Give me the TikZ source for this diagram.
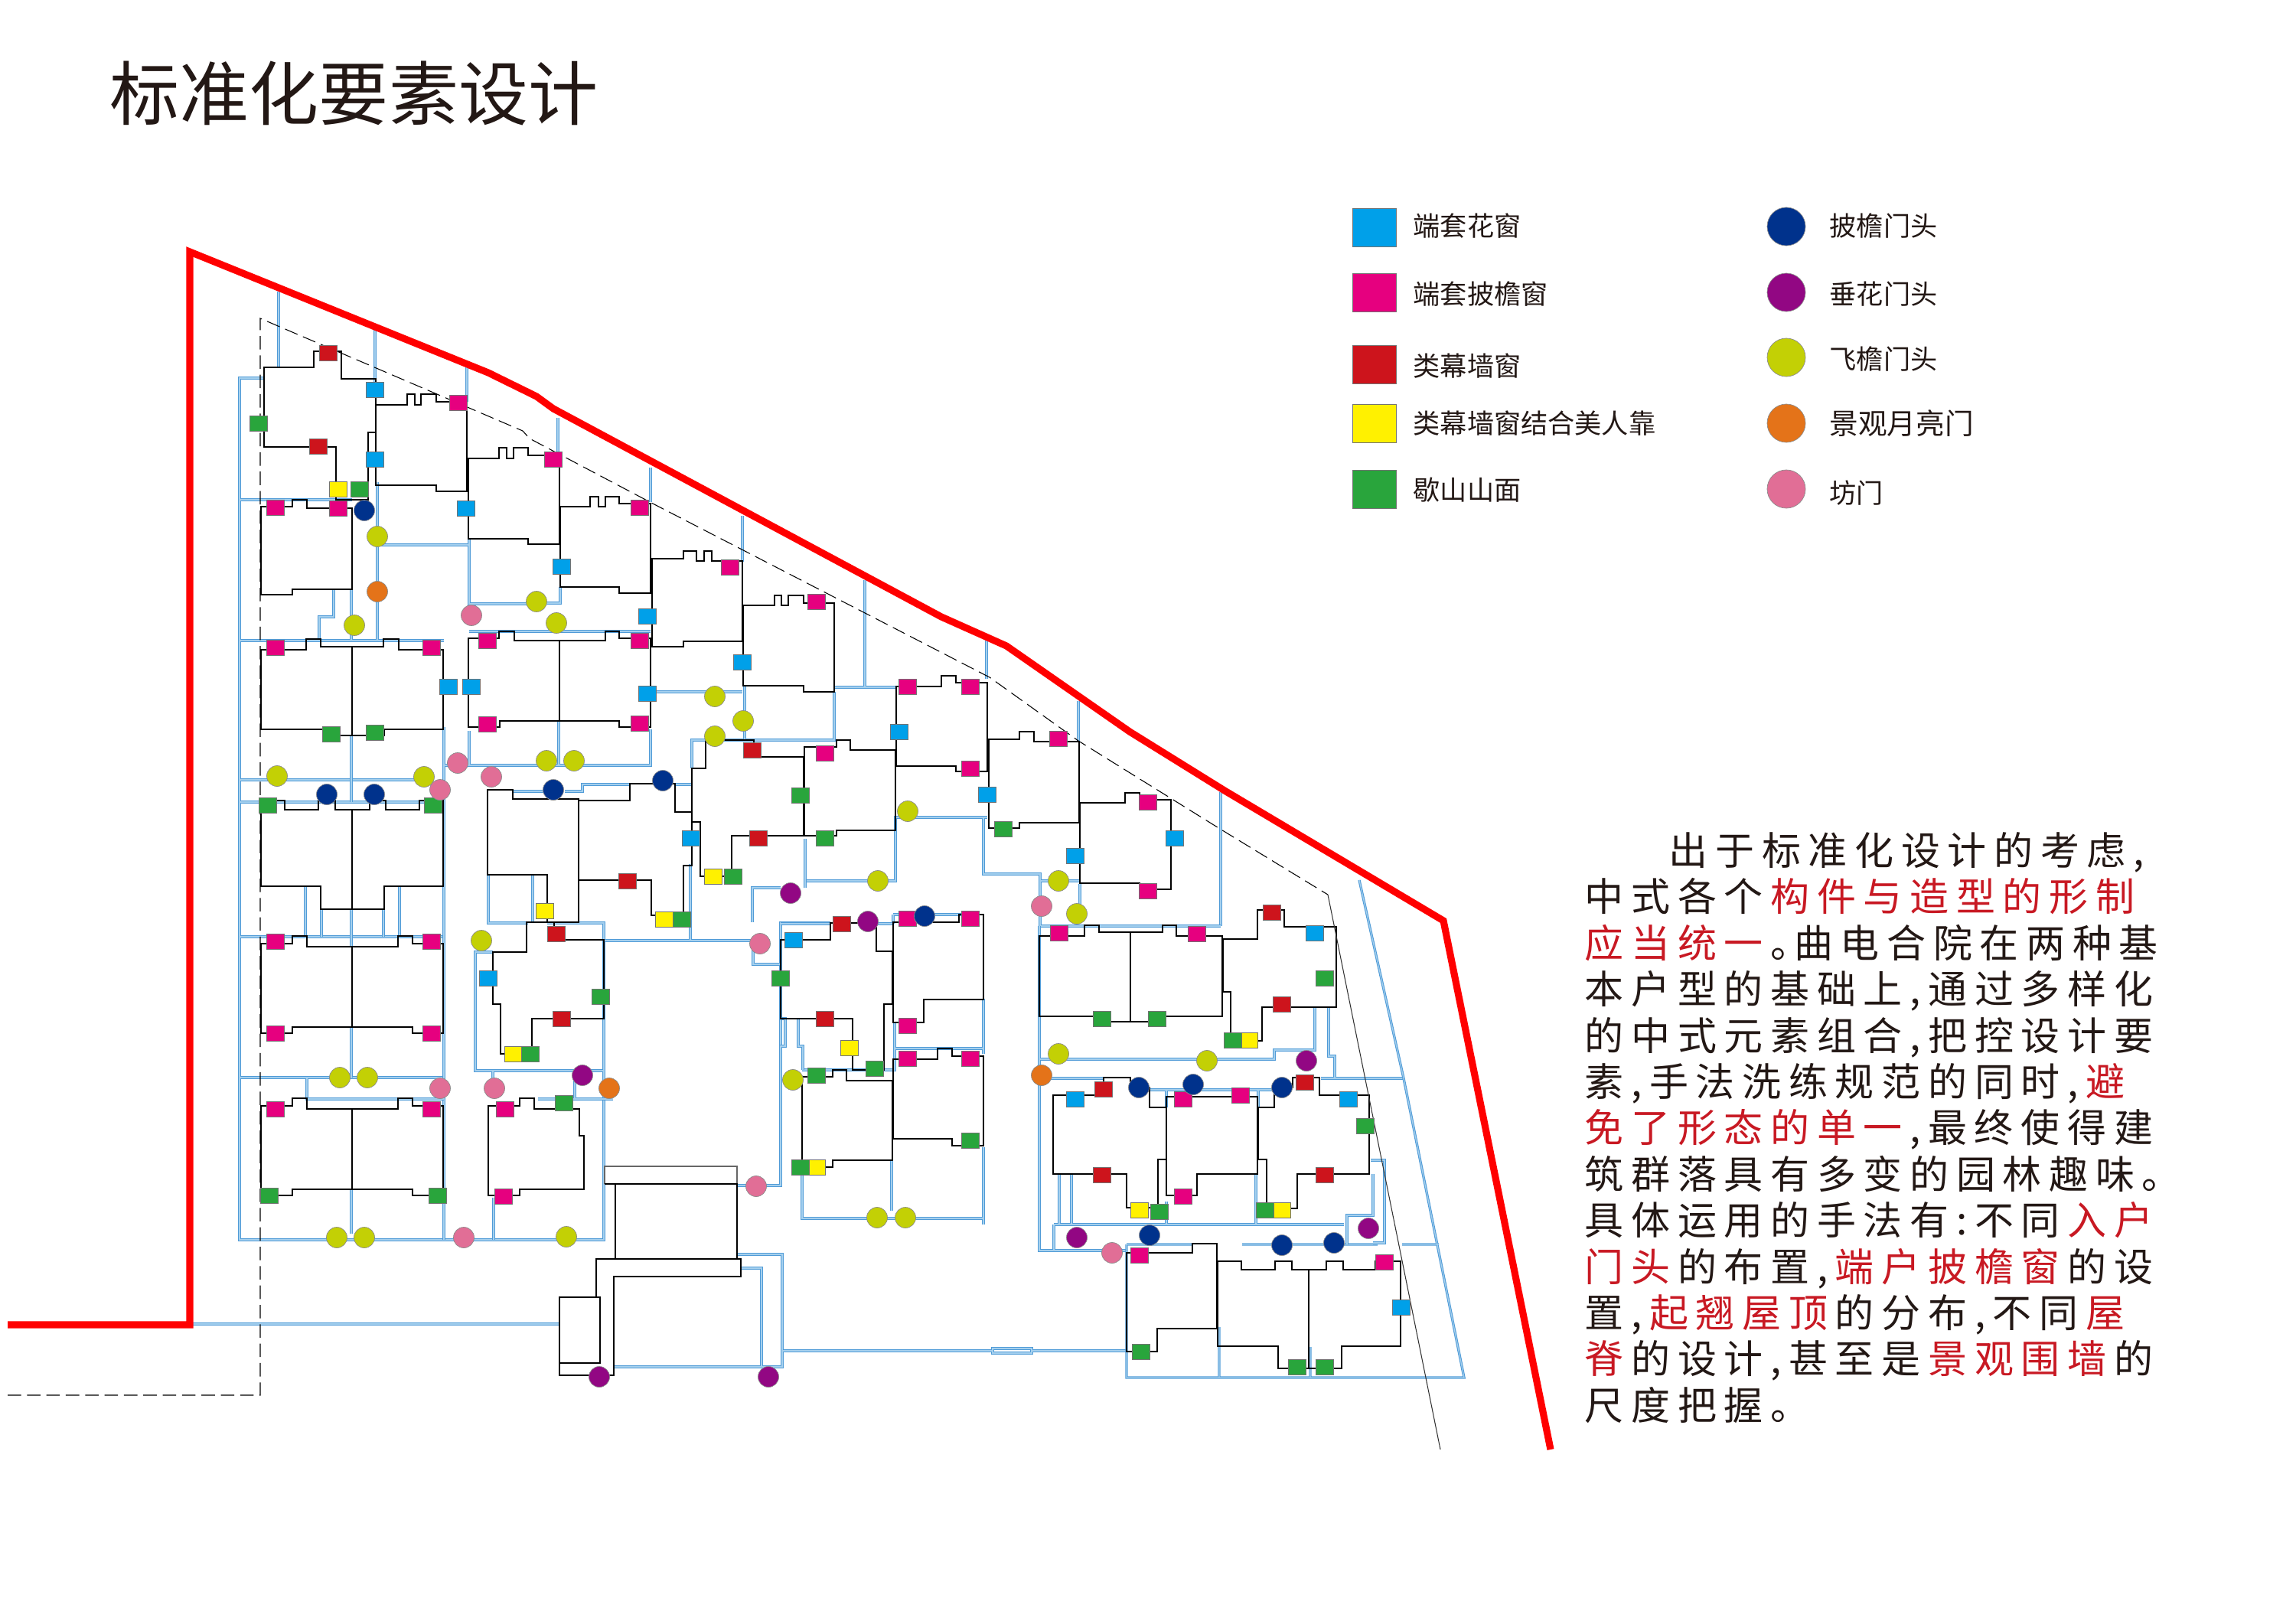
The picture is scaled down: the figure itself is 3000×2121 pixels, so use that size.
\documentclass[tikz,border=0pt]{standalone}
\usepackage{fontspec}
\setmainfont{Noto Sans CJK SC}
\newfontfamily\parafont[LetterSpace=19]{Noto Sans CJK SC}
\usepackage{tikz}
\usetikzlibrary{positioning}
\definecolor{skywin}{RGB}{0,160,233}
\definecolor{magwin}{RGB}{230,0,127}
\definecolor{redwin}{RGB}{205,20,28}
\definecolor{yelwin}{RGB}{255,241,0}
\definecolor{grnwin}{RGB}{41,165,60}
\definecolor{navydoor}{RGB}{0,50,140}
\definecolor{purpdoor}{RGB}{146,7,131}
\definecolor{olivedoor}{RGB}{195,208,5}
\definecolor{orgdoor}{RGB}{228,115,25}
\definecolor{pinkdoor}{RGB}{225,110,150}
\definecolor{roadblue}{RGB}{80,155,215}
\definecolor{roadfill}{RGB}{165,208,238}
\definecolor{parared}{RGB}{200,25,35}
\definecolor{inkblack}{RGB}{35,24,21}
\tikzstyle{winnode} = [draw=black!55, line width=.2pt, rectangle, minimum width=.235cm, minimum height=.2cm, inner sep=0pt]
\tikzstyle{doornode} = [draw=black!45, line width=.2pt, circle, minimum size=.27cm, inner sep=0pt]
\tikzstyle{keywin} = [draw=black!55, line width=.2pt, rectangle, minimum width=.57cm, minimum height=.5cm, inner sep=0pt]
\tikzstyle{keydoor} = [draw=black!45, line width=.2pt, circle, minimum size=.5cm, inner sep=0pt]
\tikzstyle{keytext} = [anchor=west, inner sep=0pt, font=\fontsize{10}{12}\selectfont, text=inkblack]
\tikzstyle{paraline} = [anchor=base west, inner sep=0pt, font=\parafont\fontsize{14.5}{17}\selectfont, text=inkblack]
\tikzstyle{housewall} = [draw=black, line width=.62pt]
\tikzstyle{roadline} = [draw=roadblue, line width=.3pt, double=roadfill, double distance=.35pt]
\newcommand{\hl}[1]{\kern.19em\textcolor{parared}{#1}\kern.19em}
\newcommand{\hlfirst}[1]{\textcolor{parared}{#1}\kern.19em}
\newcommand{\juhao}{。\kern-.4em}
\begin{document}
\begin{tikzpicture}[x=0.01cm, y=-0.01cm]
    \useasboundingbox (0,0) rectangle (3000,2121);

    \node[anchor=west, inner sep=0pt, font=\fontsize{25.9}{30}\selectfont, text=inkblack] (title) at (143,122) {标准化要素设计};

    \draw[roadline] (364,381) -- (364,480) (490,430) -- (490,501) (610,479) -- (610,525) (729,546) -- (729,592) (850,611) -- (850,656) (970,674) -- (970,734);
    \draw[roadline] (1130,758) -- (1130,898) (1090,898) -- (1171,898) (1289,837) -- (1289,887) (1409,916) -- (1409,969) (1595,1035) -- (1595,1210);
    \draw[roadline] (344,494) -- (313,494) -- (313,1620) -- (789,1620) -- (789,1228) (313,653) -- (460,653) (313,837) -- (580,837) (313,1019) -- (554,1019) (313,1048) -- (578,1048) (313,1224) -- (580,1224) (313,1408) -- (578,1408);
    \draw[roadline] (580,950) -- (580,1620) (459,961) -- (459,1048) (459,1188) -- (459,1237) (459,1342) -- (459,1408) (459,1554) -- (459,1612);
    \draw[roadline] (493,630) -- (493,836) (493,712) -- (612,712) (613,704) -- (613,789) -- (701,789) (732,767) -- (732,788) -- (714,788);
    \draw[roadline] (613,825) -- (850,825) (613,955) -- (613,1000) -- (850,1000) -- (850,953) (730,942) -- (730,1000) (581,1000) -- (613,1000);
    \draw[roadline] (436,770) -- (436,806) -- (417,806) -- (417,836) (459,771) -- (459,836) (857,904) -- (922,904) (922,967) -- (904,967) -- (904,1003);
    \draw[roadline] (670,1034) -- (710,1034) (738,1034) -- (761,1034) -- (761,1025) -- (824,1025) (882,1025) -- (904,1025);
    \draw[roadline] (638,1143) -- (638,1206) -- (690,1206) (696,1143) -- (696,1206) (715,1206) -- (789,1206) -- (789,1227) (789,1229) -- (982,1229) (902,1129) -- (902,1229);
    \draw[roadline] (644,1244) -- (621,1244) -- (621,1399) -- (788,1399) (703,1436) -- (801,1436) (401,1409) -- (401,1436) -- (580,1436) (644,1399) -- (644,1435) (645,1565) -- (645,1620) (751,1404) -- (751,1436);
    \draw[roadline] (399,1158) -- (399,1224) (522,1158) -- (522,1224) (420,1188) -- (420,1224) (501,1188) -- (501,1224) (249,1730) -- (731,1730);
    \draw[roadline] (984,1233) -- (984,1260) -- (1020,1260) (1085,1206) -- (1020,1206) -- (1020,1549) -- (963,1549);
    \draw[roadline] (1048,1525) -- (1048,1592) -- (1285,1592) (1165,1516) -- (1165,1582) (1285,1499) -- (1285,1600) (1285,1305) -- (1285,1377) (1169,1370) -- (1285,1370) (1169,1335) -- (1169,1398) -- (1048,1398);
    \draw[roadline] (1020,1331) -- (1026,1331) -- (1026,1367) -- (1020,1367) -- (1020,1407) (1043,1331) -- (1043,1367) -- (1049,1367) -- (1049,1398);
    \draw[roadline] (983,1205) -- (983,1160) -- (1020,1160) (1052,1096) -- (1052,1160) (1054,1151) -- (1170,1151) -- (1170,1068) -- (1290,1068) (1285,1069) -- (1285,1142) -- (1359,1142) -- (1359,1210) (1359,1151) -- (1411,1151) (1411,1155) -- (1411,1193) (1359,1210) -- (1595,1210);
    \draw[roadline] (1090,904) -- (1090,967) -- (904,967) -- (904,1004) (973,897) -- (973,967) (850,904) -- (970,904) (1020,1207) -- (1085,1207) (1146,1207) -- (1168,1207) (1167,1195) -- (1257,1195) (1167,1195) -- (1167,1207);
    \draw[roadline] (963,1639) -- (1022,1639) -- (1022,1786) -- (803,1786) (968,1657) -- (995,1657) -- (995,1786) (1023,1765) -- (1297,1765) (1348,1765) -- (1472,1765) (1297,1762) rectangle (1348,1768);
    \draw[roadline] (1358,1210) -- (1358,1634) -- (1471,1634) (1377,1600) -- (1377,1633) (1377,1600) -- (1756,1600) (1384,1535) -- (1384,1600) (1400,1535) -- (1400,1600) (1524,1570) -- (1524,1600) (1641,1535) -- (1641,1600);
    \draw[roadline] (1359,1384) -- (1665,1384) -- (1665,1372) -- (1718,1372) -- (1718,1316) (1736,1316) -- (1736,1380) -- (1744,1380) -- (1744,1408) (1361,1409) -- (1442,1409) (1501,1424) -- (1665,1424) (1524,1424) -- (1524,1447) (1644,1424) -- (1644,1447) (1726,1409) -- (1834,1409);
    \draw[roadline] (1776,1150) -- (1834,1409) -- (1913,1800) -- (1472,1800) -- (1472,1626) (1593,1734) -- (1593,1800) (1712,1760) -- (1712,1800) (1832,1626) -- (1880,1626) (1472,1626) -- (1558,1626) (1623,1626) -- (1800,1626);
    \draw[roadline] (1760,1626) -- (1760,1588) -- (1794,1588) -- (1794,1534) (1791,1516) -- (1809,1516) -- (1809,1624) -- (1794,1624);

    \draw[housewall] (345,584) -- (345,480) -- (410,480) -- (410,459) -- (446,459) -- (446,495) -- (491,495) -- (491,565) -- (481,565) -- (481,653) -- (439,653) -- (439,584) -- cycle;
    \draw[housewall] (491,529) -- (532,529) -- (532,515) -- (542,515) -- (542,529) -- (550,529) -- (550,515) -- (570,515) -- (570,525) -- (610,525) -- (610,642) -- (570,642) -- (570,634) -- (491,634) -- cycle;
    \draw[housewall] (612,599) -- (652,599) -- (652,585) -- (662,585) -- (662,599) -- (671,599) -- (671,585) -- (690,585) -- (690,595) -- (731,595) -- (731,711) -- (690,711) -- (690,704) -- (612,704) -- cycle;
    \draw[housewall] (732,662) -- (771,662) -- (771,649) -- (782,649) -- (782,662) -- (791,662) -- (791,649) -- (809,649) -- (809,658) -- (850,658) -- (850,775) -- (809,775) -- (809,767) -- (732,767) -- cycle;
    \draw[housewall] (852,730) -- (893,730) -- (893,720) -- (910,720) -- (910,733) -- (920,733) -- (920,720) -- (930,720) -- (930,733) -- (970,733) -- (970,838) -- (893,838) -- (893,845) -- (852,845) -- cycle;
    \draw[housewall] (971,791) -- (1012,791) -- (1012,778) -- (1021,778) -- (1021,791) -- (1030,791) -- (1030,778) -- (1050,778) -- (1050,788) -- (1090,788) -- (1090,904) -- (1050,904) -- (1050,896) -- (971,896) -- cycle;
    \draw[housewall] (341,662) -- (382,662) -- (382,653) -- (401,653) -- (401,664) -- (460,664) -- (460,770) -- (382,770) -- (382,777) -- (341,777) -- cycle;
    \draw[housewall] (341,849) -- (400,849) -- (400,835) -- (419,835) -- (419,845) -- (501,845) -- (501,835) -- (521,835) -- (521,849) -- (579,849) -- (579,953) -- (502,953) -- (502,961) -- (422,961) -- (422,953) -- (341,953) -- cycle (460,845) -- (460,961);
    \draw[housewall] (612,834) -- (652,834) -- (652,825) -- (672,825) -- (672,837) -- (791,837) -- (791,825) -- (809,825) -- (809,834) -- (850,834) -- (850,950) -- (809,950) -- (809,942) -- (653,942) -- (653,950) -- (612,950) -- cycle (731,837) -- (731,942);
    \draw[housewall] (341,1046) -- (372,1046) -- (372,1058) -- (416,1058) -- (416,1046) -- (438,1046) -- (438,1058) -- (483,1058) -- (483,1046) -- (504,1046) -- (504,1058) -- (548,1058) -- (548,1046) -- (579,1046) -- (579,1158) -- (502,1158) -- (502,1188) -- (419,1188) -- (419,1158) -- (341,1158) -- cycle (460,1058) -- (460,1188);
    \draw[housewall] (341,1233) -- (382,1233) -- (382,1223) -- (401,1223) -- (401,1237) -- (520,1237) -- (520,1223) -- (539,1223) -- (539,1233) -- (579,1233) -- (579,1350) -- (539,1350) -- (539,1342) -- (382,1342) -- (382,1350) -- (341,1350) -- cycle (460,1237) -- (460,1342);
    \draw[housewall] (341,1445) -- (382,1445) -- (382,1435) -- (401,1435) -- (401,1449) -- (520,1449) -- (520,1435) -- (539,1435) -- (539,1445) -- (579,1445) -- (579,1562) -- (539,1562) -- (539,1554) -- (382,1554) -- (382,1562) -- (341,1562) -- cycle (460,1449) -- (460,1554);
    \draw[housewall] (637,1032) -- (670,1032) -- (670,1044) -- (756,1044) -- (756,1205) -- (715,1205) -- (715,1143) -- (637,1143) -- cycle;
    \draw[housewall] (756,1046) -- (823,1046) -- (823,1024) -- (882,1024) -- (882,1061) -- (904,1061) -- (904,1131) -- (893,1131) -- (893,1196) -- (851,1196) -- (851,1150) -- (756,1150);
    \draw[housewall] (904,1004) -- (922,1004) -- (922,967) -- (985,967) -- (985,989) -- (1050,989) -- (1050,1092) -- (956,1092) -- (956,1145) -- (915,1145) -- (915,1074) -- (904,1074) -- cycle;
    \draw[housewall] (1051,976) -- (1093,976) -- (1093,967) -- (1111,967) -- (1111,980) -- (1170,980) -- (1170,1085) -- (1093,1085) -- (1093,1092) -- (1051,1092) -- cycle;
    \draw[housewall] (1171,897) -- (1230,897) -- (1230,883) -- (1249,883) -- (1249,892) -- (1290,892) -- (1290,1008) -- (1249,1008) -- (1249,1001) -- (1171,1001) -- cycle;
    \draw[housewall] (1292,966) -- (1332,966) -- (1332,956) -- (1351,956) -- (1351,969) -- (1410,969) -- (1410,1075) -- (1332,1075) -- (1332,1082) -- (1292,1082) -- cycle;
    \draw[housewall] (1411,1049) -- (1470,1049) -- (1470,1036) -- (1489,1036) -- (1489,1045) -- (1530,1045) -- (1530,1162) -- (1489,1162) -- (1489,1154) -- (1411,1154) -- cycle;
    \draw[housewall] (1020,1331) -- (1020,1228) -- (1085,1228) -- (1085,1206) -- (1145,1206) -- (1145,1243) -- (1166,1243) -- (1166,1312) -- (1155,1312) -- (1155,1398) -- (1114,1398) -- (1114,1331) -- cycle;
    \draw[housewall] (1167,1205) -- (1253,1205) -- (1253,1195) -- (1285,1195) -- (1285,1306) -- (1207,1306) -- (1207,1336) -- (1167,1336) -- cycle;
    \draw[housewall] (1167,1384) -- (1225,1384) -- (1225,1370) -- (1244,1370) -- (1244,1380) -- (1285,1380) -- (1285,1497) -- (1244,1497) -- (1244,1488) -- (1167,1488) -- cycle;
    \draw[housewall] (1048,1525) -- (1048,1407) -- (1088,1407) -- (1088,1398) -- (1106,1398) -- (1106,1412) -- (1166,1412) -- (1166,1516) -- (1088,1516) -- (1088,1525) -- cycle;
    \draw[housewall] (644,1244) -- (688,1244) -- (688,1205) -- (724,1205) -- (724,1228) -- (789,1228) -- (789,1331) -- (695,1331) -- (695,1377) -- (654,1377) -- (654,1312) -- (644,1312) -- cycle;
    \draw[housewall] (638,1445) -- (679,1445) -- (679,1435) -- (698,1435) -- (698,1449) -- (757,1449) -- (757,1484) -- (763,1484) -- (763,1554) -- (679,1554) -- (679,1562) -- (638,1562) -- cycle;
    \draw[housewall, draw=black!60] (790,1547) -- (790,1524) -- (963,1524) -- (963,1547);
    \draw[housewall] (790,1547) -- (963,1547) -- (963,1645) (804,1547) -- (804,1645);
    \draw[housewall] (779,1645) -- (968,1645) -- (968,1668) -- (802,1668) -- (802,1797) -- (731,1797) -- (731,1695) -- (779,1695) -- cycle (731,1695) rectangle (784,1781);
    \draw[housewall] (1358,1223) -- (1417,1223) -- (1417,1209) -- (1436,1209) -- (1436,1218) -- (1519,1218) -- (1519,1209) -- (1537,1209) -- (1537,1223) -- (1597,1223) -- (1597,1328) -- (1523,1328) -- (1523,1335) -- (1451,1335) -- (1451,1328) -- (1358,1328) -- cycle (1477,1218) -- (1477,1335);
    \draw[housewall] (1598,1227) -- (1643,1227) -- (1643,1189) -- (1678,1189) -- (1678,1211) -- (1746,1211) -- (1746,1316) -- (1649,1316) -- (1649,1360) -- (1608,1360) -- (1608,1296) -- (1598,1296) -- cycle;
    \draw[housewall] (1376,1431) -- (1442,1431) -- (1442,1408) -- (1477,1408) -- (1477,1421) -- (1502,1421) -- (1502,1447) -- (1524,1447) -- (1524,1515) -- (1513,1515) -- (1513,1578) -- (1472,1578) -- (1472,1534) -- (1376,1534) -- cycle;
    \draw[housewall] (1524,1433) -- (1643,1433) -- (1643,1534) -- (1564,1534) -- (1564,1562) -- (1524,1562) -- cycle;
    \draw[housewall] (1644,1447) -- (1665,1447) -- (1665,1421) -- (1689,1421) -- (1689,1408) -- (1724,1408) -- (1724,1431) -- (1789,1431) -- (1789,1534) -- (1695,1534) -- (1695,1579) -- (1655,1579) -- (1655,1515) -- (1644,1515) -- cycle;
    \draw[housewall] (1472,1637) -- (1558,1637) -- (1558,1625) -- (1590,1625) -- (1590,1736) -- (1512,1736) -- (1512,1766) -- (1472,1766) -- cycle;
    \draw[housewall] (1591,1648) -- (1622,1648) -- (1622,1659) -- (1666,1659) -- (1666,1648) -- (1688,1648) -- (1688,1659) -- (1733,1659) -- (1733,1648) -- (1755,1648) -- (1755,1659) -- (1797,1659) -- (1797,1648) -- (1830,1648) -- (1830,1759) -- (1753,1759) -- (1753,1788) -- (1670,1788) -- (1670,1759) -- (1591,1759) -- cycle (1710,1659) -- (1710,1788);

    \draw[black, line width=.3pt, dash pattern=on 5pt off 2.2pt] (10,1823) -- (340,1823) -- (340,416) -- (683,563) -- (692,573) -- (853,658) -- (1293,885) -- (1409,968) -- (1594,1083) -- (1735,1169);
    \draw[black!80, line width=.3pt] (1735,1169) -- (1882,1894);
    \draw[red, line width=2.6pt, line join=miter] (10,1731) -- (248,1731) -- (248,329) -- (638,487) -- (701,518) -- (723,534) -- (1230,806) -- (1315,844) -- (1476,956) -- (1600,1033) -- (1886,1203) -- (2026,1894);

    \foreach \x/\y [count=\i] in {490/509,490/600,609/664,734/740,846/805,586/897,616/897,846/906,970/865,1175/956,1290/1038,1405/1118,1535/1095,1037/1228,903/1095,638/1278,1405/1436,1718/1219,1762/1436,1831/1708}
        \node[winnode, fill=skywin] (sky\i) at (\x,\y) {};
    \foreach \x/\y [count=\i] in {599/526,723/600,836/663,360/663,442/664,360/846,564/846,637/837,836/837,637/946,836/945,954/741,1067/786,1186/897,1268/897,1268/1004,1383/965,1500/1048,1500/1164,1078/984,1186/1200,1268/1200,1186/1340,1186/1383,1268/1383,1384/1219,1564/1220,360/1230,564/1230,360/1350,564/1350,360/1449,564/1449,660/1449,658/1563,1546/1436,1621/1431,1546/1563,1489/1640,1809/1649}
        \node[winnode, fill=magwin] (mag\i) at (\x,\y) {};
    \foreach \x/\y [count=\i] in {429/461,416/583,983/980,991/1095,1100/1207,1078/1331,727/1220,820/1151,734/1331,1662/1192,1675/1312,1705/1414,1442/1423,1440/1535,1731/1535}
        \node[winnode, fill=redwin] (redw\i) at (\x,\y) {};
    \foreach \x/\y [count=\i] in {442/639,712/1190,868/1201,932/1145,671/1377,1110/1369,1067/1525,1632/1359,1489/1581,1675/1581}
        \node[winnode, fill=yelwin] (yel\i) at (\x,\y) {};
    \foreach \x/\y [count=\i] in {338/553,470/639,433/959,490/957,350/1052,566/1052,891/1201,785/1302,693/1377,737/1441,352/1562,572/1562,1046/1039,1078/1095,958/1145,1311/1083,1020/1278,1440/1331,1512/1331,1143/1396,1067/1405,1268/1490,1046/1525,1611/1359,1731/1278,1515/1583,1653/1581,1784/1471,1491/1766,1695/1786,1731/1786}
        \node[winnode, fill=grnwin] (grn\i) at (\x,\y) {};
    \foreach \x/\y [count=\i] in {476/667,427/1038,489/1038,723/1032,866/1020,1208/1197,1488/1421,1559/1417,1675/1421,1502/1614,1675/1627,1743/1624}
        \node[doornode, fill=navydoor] (navy\i) at (\x,\y) {};
    \foreach \x/\y [count=\i] in {761/1405,1033/1167,1134/1204,783/1799,1004/1799,1707/1386,1407/1617,1788/1605}
        \node[doornode, fill=purpdoor] (purp\i) at (\x,\y) {};
    \foreach \x/\y [count=\i] in {493/701,463/817,701/786,727/814,934/910,934/962,714/994,750/994,362/1014,554/1015,629/1229,444/1408,480/1408,440/1617,476/1617,740/1616,971/942,1186/1060,1147/1151,1383/1151,1407/1194,1036/1411,1146/1591,1183/1591,1383/1377,1577/1386}
        \node[doornode, fill=olivedoor] (oliv\i) at (\x,\y) {};
    \foreach \x/\y [count=\i] in {493/773,796/1422,1361/1405}
        \node[doornode, fill=orgdoor] (orng\i) at (\x,\y) {};
    \foreach \x/\y [count=\i] in {616/804,598/997,642/1015,575/1032,575/1422,646/1422,606/1617,1361/1184,993/1233,988/1550,1453/1637}
        \node[doornode, fill=pinkdoor] (pink\i) at (\x,\y) {};

    \node[keywin, fill=skywin] (key_sky) at (1796,297) {};
    \node[keywin, fill=magwin] (key_mag) at (1796,382) {};
    \node[keywin, fill=redwin] (key_red) at (1796,476) {};
    \node[keywin, fill=yelwin] (key_yel) at (1796,553) {};
    \node[keywin, fill=grnwin] (key_grn) at (1796,639) {};
    \node[keytext] (txt_sky) at (1846,295) {端套花窗};
    \node[keytext] (txt_mag) at (1846,384) {端套披檐窗};
    \node[keytext] (txt_red) at (1846,478) {类幕墙窗};
    \node[keytext] (txt_yel) at (1846,553) {类幕墙窗结合美人靠};
    \node[keytext] (txt_grn) at (1846,640) {歇山山面};

    \node[keydoor, fill=navydoor] (key_navy) at (2334,296) {};
    \node[keydoor, fill=purpdoor] (key_purp) at (2334,382) {};
    \node[keydoor, fill=olivedoor] (key_oliv) at (2334,467) {};
    \node[keydoor, fill=orgdoor] (key_orng) at (2334,553) {};
    \node[keydoor, fill=pinkdoor] (key_pink) at (2334,639) {};
    \node[keytext] (txt_navy) at (2390,295) {披檐门头};
    \node[keytext] (txt_purp) at (2390,384) {垂花门头};
    \node[keytext] (txt_oliv) at (2390,469) {飞檐门头};
    \node[keytext, font=\fontsize{10.7}{12}\selectfont] (txt_orng) at (2390,553) {景观月亮门};
    \node[keytext] (txt_pink) at (2390,644) {坊门};

    \node[paraline] (line1) at (2180,1130) {出于标准化设计的考虑,};
    \node[paraline] (line2) at (2070,1190) {中式各个\hl{构件与造型的形制}};
    \node[paraline] (line3) at (2070,1251) {\hlfirst{应当统一}\juhao 曲电合院在两种基};
    \node[paraline] (line4) at (2070,1311) {本户型的基础上,通过多样化};
    \node[paraline] (line5) at (2070,1372) {的中式元素组合,把控设计要};
    \node[paraline] (line6) at (2070,1432) {素,手法洗练规范的同时,\hl{避}};
    \node[paraline] (line7) at (2070,1492) {\hlfirst{免了形态的单一},最终使得建};
    \node[paraline] (line8) at (2070,1553) {筑群落具有多变的园林趣味。};
    \node[paraline] (line9) at (2070,1613) {具体运用的手法有:不同\hl{入户}};
    \node[paraline] (line10) at (2070,1674) {\hlfirst{门头}的布置,\hl{端户披檐窗}的设};
    \node[paraline] (line11) at (2070,1734) {置,\hl{起翘屋顶}的分布,不同\hl{屋}};
    \node[paraline] (line12) at (2070,1794) {\hlfirst{脊}的设计,甚至是\hl{景观围墙}的};
    \node[paraline] (line13) at (2070,1855) {尺度把握。};
\end{tikzpicture}
\end{document}
